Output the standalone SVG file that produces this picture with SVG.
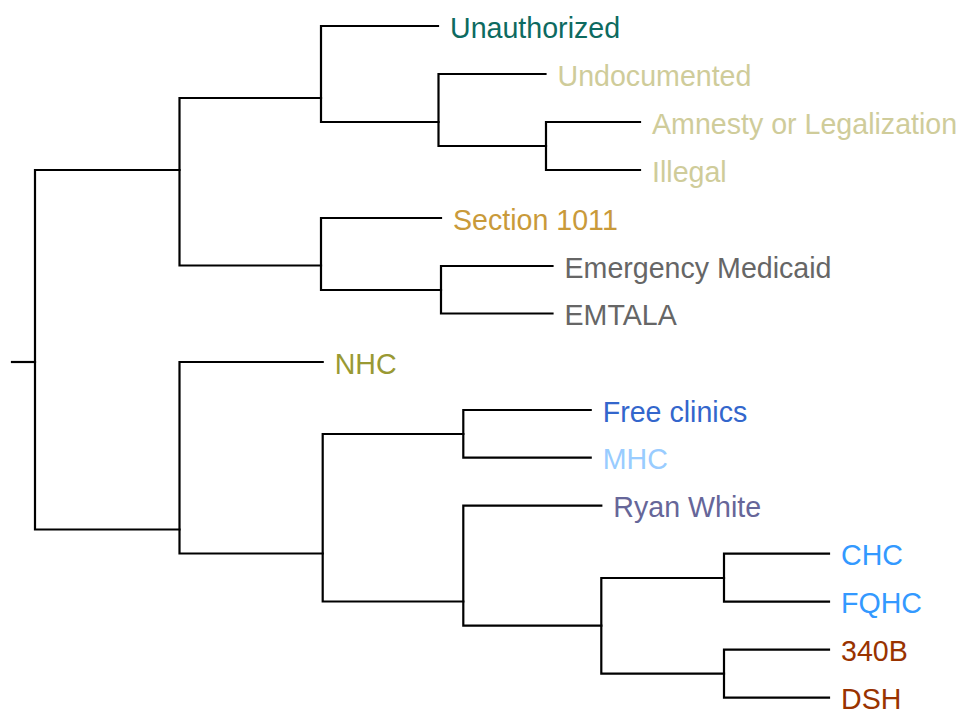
<svg xmlns="http://www.w3.org/2000/svg" width="960" height="711" viewBox="0 0 960 711">
<style>
.c{fill:none;stroke:#000;stroke-width:2.2;stroke-linecap:square;stroke-linejoin:miter}
text{font-family:"Liberation Sans",Arial,sans-serif;font-size:28.6px}
</style>
<rect width="960" height="711" fill="#fff"/>
<g id="connectors" class="c">
<path d="M12,362H35"/>
<path d="M179.5,170H35V529.5H179.5"/>
<path d="M321,98H179.5V265.5H321"/>
<path d="M438,26H321V122H438.5"/>
<path d="M545.5,74H438.5V146H546"/>
<path d="M640,122H546V170H640"/>
<path d="M441,218H321V290H441"/>
<path d="M552.5,266H441V313.5H552.5"/>
<path d="M322.7,362H179.5V553.5H322.7"/>
<path d="M463.3,434H322.7V601.5H463.3"/>
<path d="M590.7,410H463.3V457.7H590.7"/>
<path d="M601.3,505.7H463.3V625.7H601.3"/>
<path d="M724,578H601.3V673.7H724"/>
<path d="M829,553.7H724V601.7H829"/>
<path d="M829,649.7H724V697.7H829"/>
</g>
<g id="n-unauthorized"><text x="450" y="37.7" fill="#0d6a60">Unauthorized</text></g>
<g id="n-undocumented"><text x="557.5" y="85.7" fill="#cfcc9a">Undocumented</text></g>
<g id="n-amnesty"><text x="652" y="133.7" fill="#cfcc9a">Amnesty or Legalization</text></g>
<g id="n-illegal"><text x="652" y="181.7" fill="#cfcc9a">Illegal</text></g>
<g id="n-section1011"><text x="453" y="229.7" fill="#c99a3a">Section 1011</text></g>
<g id="n-emergency-medicaid"><text x="564.5" y="277.7" fill="#666666">Emergency Medicaid</text></g>
<g id="n-emtala"><text x="564.5" y="325.2" fill="#666666">EMTALA</text></g>
<g id="n-nhc"><text x="334.7" y="373.7" fill="#999933">NHC</text></g>
<g id="n-free-clinics"><text x="602.7" y="421.7" fill="#3366cc">Free clinics</text></g>
<g id="n-mhc"><text x="602.7" y="469.4" fill="#99ccff">MHC</text></g>
<g id="n-ryan-white"><text x="613.3" y="517.4" fill="#666699">Ryan White</text></g>
<g id="n-chc"><text x="841" y="565.4" fill="#3399ff">CHC</text></g>
<g id="n-fqhc"><text x="841" y="613.4" fill="#3399ff">FQHC</text></g>
<g id="n-340b"><text x="841" y="661.4" fill="#993300">340B</text></g>
<g id="n-dsh"><text x="841" y="709.4" fill="#993300">DSH</text></g>
</svg>
